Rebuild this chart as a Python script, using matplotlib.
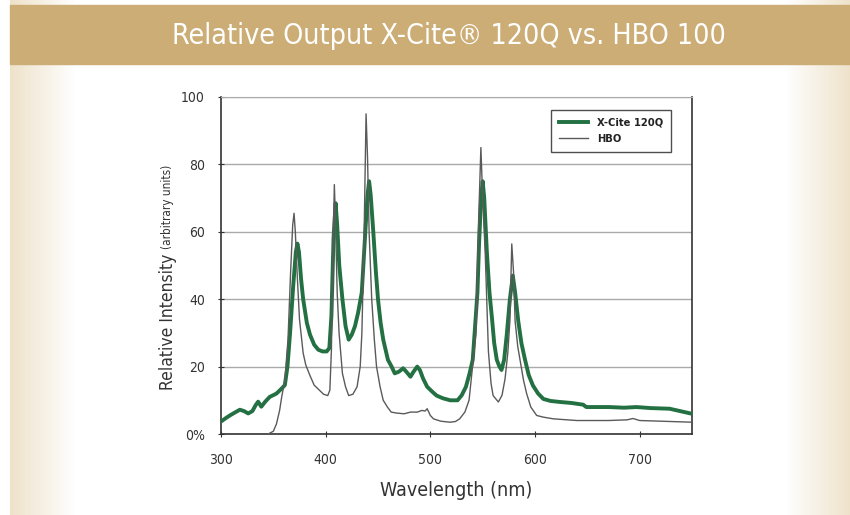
import matplotlib
matplotlib.use('Agg')
import matplotlib.pyplot as plt
import numpy as np
from matplotlib.patches import Rectangle

# X-Cite 120Q curve (nm, relative intensity)
xcite_nm = [300, 305, 309, 314, 318, 322, 326, 330, 333, 335.5, 338.5, 342, 346.5, 353, 358,
            361, 363.5, 366, 369, 371.5, 373, 374.5, 376.5, 378.5, 382, 385, 389, 393, 397, 401,
            403.5, 405.5, 407.5, 409.5, 411, 413, 416, 419, 422, 425, 428, 431, 434.5, 437.5,
            440, 441.5, 443, 445.5, 448, 450, 452.5, 455, 459.5, 463, 466, 470, 474, 477, 481,
            484, 487.5, 490, 493, 497, 502, 506, 512, 519, 526, 530, 534, 537.5, 540.5, 543,
            545, 546.5, 548.5, 550, 551.5, 554, 556.5, 559, 561, 563.5, 566, 568, 570.5, 573,
            576, 578.8, 581, 584, 587, 590.5, 594, 598, 603, 608, 615, 624, 635, 646, 649, 660,
            671, 685, 697, 710, 728.6, 740, 750]
xcite_val = [3.7, 4.8, 5.6, 6.5, 7.2, 6.8, 6.1, 6.8, 8.5, 9.6, 8.1, 9.5, 11, 12, 13.5,
             14.5, 20, 30, 44, 54, 56.5, 54, 46, 40, 33, 29.5, 26.5, 25, 24.5, 24.5,
             25.5, 35, 58, 68.5, 62, 50, 40, 32, 28, 29.5, 32, 36, 42, 58,
             71, 75, 71, 60, 48, 40, 33, 28, 22, 20, 18, 18.5, 19.5, 18.5, 17,
             18.5, 20, 19, 16.5, 14, 12.5, 11.4, 10.6, 10, 10, 11.5, 14, 18, 22, 33,
             42, 56, 70, 75, 70, 54, 42, 34, 27, 22, 20, 19, 22, 29.4,
             40, 47, 42, 33.5, 27, 22, 17.5, 14.4, 12, 10.4, 9.8, 9.5, 9.2, 8.7, 8, 8,
             8, 7.8, 8, 7.7, 7.5, 6.7, 6]

# HBO 100 curve
hbo_nm = [345, 350, 353, 356, 358, 361, 364, 366.5, 368.5, 369.8, 371, 373, 375, 378.5, 381,
          384.8, 389, 394, 398, 402, 404, 405.5, 407, 408.3, 409.5, 411, 412.8, 416, 419, 422,
          426, 430, 433, 434.6, 436.5, 438.6, 440, 441.5, 444, 446.5, 448.6, 452, 455, 459,
          462.6, 468, 475, 481, 487.6, 492, 495, 497, 500, 503, 510, 518.7, 524, 528, 533,
          537, 541, 543.6, 546, 548.3, 550, 552.4, 555.5, 558, 560, 565, 568.5, 571.4, 574,
          576, 577.8, 579.5, 581, 583.5, 585.7, 589, 592, 596, 601.6, 608, 617.5, 640, 670,
          688, 693.6, 700, 720, 750]
hbo_val = [0, 0.8, 3, 7, 11, 16, 28, 48, 62, 65.5, 60, 46, 34, 24, 20.5,
           17.5, 14.5, 13, 11.8, 11.4, 13, 25, 55, 74, 62, 42, 30, 18, 14, 11.4,
           11.8, 14, 20, 30, 55, 95, 82, 60, 40, 28, 20, 14, 10, 8,
           6.5, 6.2, 6, 6.5, 6.5, 7, 6.8, 7.5, 5.5, 4.5, 3.8, 3.5, 3.7, 4.5, 6.5,
           10, 22, 30, 62, 85, 70, 54, 24.5, 15, 11.4, 9.5, 11.5, 16.4, 24,
           33.5, 56.4, 48, 33.5, 26, 22, 16, 12, 8, 5.5, 5, 4.5, 4, 4,
           4.2, 4.6, 4, 3.8, 3.5]

x_ticks = [300, 400, 500, 600, 700]
y_ticks = [0, 20, 40, 60, 80, 100]
y_labels = ['0%', '20', '40', '60', '80', '100']

plt.rcParams['font.family'] = ['DejaVu Sans']
plt.rcParams['font.stretch'] = 'condensed'

fig = plt.figure(figsize=(8.5, 5.15), dpi=100)

# cream side shading behind everything
bg = fig.add_axes([0, 0, 1, 1], zorder=-2)
bg.axis('off')
w = 850
cols = np.arange(w)
fade = np.zeros(w)
left = (cols >= 10) & (cols < 75)
fade[left] = (75 - cols[left]) / 65.0
right = cols > 785
fade[right] = (cols[right] - 785) / 65.0
cream = np.array([238, 226, 202]) / 255.0
white = np.ones(3)
row = white[None, :] * (1 - fade[:, None]) + cream[None, :] * fade[:, None]
img = np.repeat(row[None, :, :], 10, axis=0)
bg.imshow(img, aspect='auto', extent=[0, 1, 0, 1])
bg.set_xlim(0, 1)
bg.set_ylim(0, 1)

# title band
fig.patches.append(Rectangle((10 / 850, 1 - 64 / 515), 1, 59 / 515,
                             transform=fig.transFigure, color='#ccad76', zorder=-1))
fig.text(0.528, 1 - 36 / 515, 'Relative Output X-Cite® 120Q vs. HBO 100', color='white',
         fontsize=20.5, ha='center', va='center')

ax = fig.add_axes([221 / 850, 1 - 434 / 515, 471 / 850, 337 / 515])
ax.set_facecolor('white')
ax.plot(xcite_nm, xcite_val, color='#237043', lw=2.8, label='X-Cite 120Q', zorder=3)
ax.plot(hbo_nm, hbo_val, color='#5a5a5a', lw=1.0, label='HBO', zorder=4)

ax.set_xlim(300, 750)
ax.set_ylim(0, 100)
ax.set_xticks(x_ticks)
ax.set_yticks(y_ticks)
ax.set_yticklabels(y_labels)
ax.tick_params(axis='both', labelsize=10, colors='#333333', direction='inout', length=5)
ax.tick_params(axis='x', pad=11)
ax.tick_params(axis='y', pad=9)
ax.grid(axis='y', color='#aaaaaa', lw=1)
ax.set_axisbelow(True)
ax.spines['top'].set_color('#aaaaaa')
for s in ['left', 'bottom', 'right']:
    ax.spines[s].set_color('#333333')
    ax.spines[s].set_linewidth(1.2)

ax.set_xlabel('Wavelength (nm)', fontsize=14, color='#333333', labelpad=10)

# y label in two sizes, second part stacked on the first
t1 = fig.text(168 / 850, 1 - 390 / 515, 'Relative Intensity', rotation=90, fontsize=12.5,
              color='#333333', ha='center', va='bottom')
ax.annotate('(arbitrary units)', xy=(0.5, 1), xycoords=t1, xytext=(0, 3),
            textcoords='offset points', rotation=90, fontsize=8.5, color='#333333',
            ha='center', va='bottom', annotation_clip=False)

leg = ax.legend(loc='upper right', bbox_to_anchor=(0.955, 0.962), borderaxespad=0,
                fontsize=8, frameon=True, fancybox=False, borderpad=0.7,
                handlelength=2.6, labelspacing=0.6)
leg.get_frame().set_edgecolor('#222222')
leg.get_frame().set_linewidth(1)
for t in leg.get_texts():
    t.set_fontweight('bold')
    t.set_color('#222222')

fig.savefig('out.png', dpi=100)
